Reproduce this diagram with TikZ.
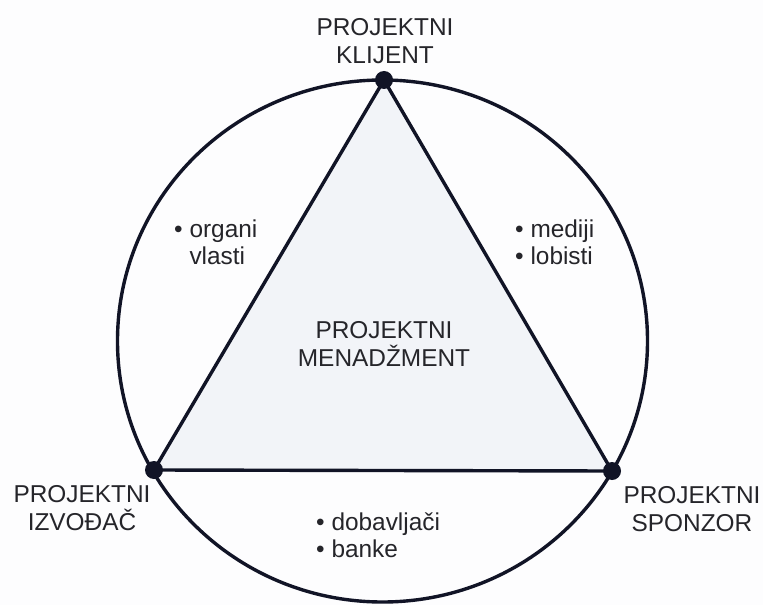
\documentclass[tikz,border=0pt]{standalone}
\usepackage{fontspec}
\setmainfont{Liberation Sans}
\definecolor{linecol}{HTML}{111426}
\definecolor{textcol}{HTML}{25252A}
\definecolor{trifill}{HTML}{F2F4F8}
\definecolor{bgcol}{HTML}{FDFDFE}
\begin{document}
\begin{tikzpicture}[x=1bp,y=-1bp,
  lbl/.style={text=textcol,font=\fontsize{24.5}{27.5}\selectfont,align=center,inner sep=0pt},
  blt/.style={text=textcol,font=\fontsize{24.5}{27.5}\selectfont,align=left,inner sep=0pt,anchor=west},
  edge/.style={draw=linecol,line width=3.4bp,line join=round},
  vdot/.style={circle,fill=linecol,minimum size=18bp,inner sep=0pt}]
\fill[bgcol] (0,0) rectangle (763,605);
\useasboundingbox (0,0) rectangle (763,605);
\coordinate (c) at (382.5,341);
\coordinate (k) at (384,80);
\coordinate (i) at (154,470);
\coordinate (s) at (612,471);
\fill[trifill] (k) -- (i) -- (s) -- cycle;
\draw[edge] (c) ellipse [x radius=265bp, y radius=261bp];
\draw[edge] (k) -- (i) -- (s) -- cycle;
\node[vdot] (kd) at (k) {};
\node[vdot] (id) at (i) {};
\node[vdot] (sd) at (s) {};
\node[lbl] (kl) at (385,41) {PROJEKTNI\\KLIJENT};
\node[lbl] (il) at (82,508) {PROJEKTNI\\IZVOĐAČ};
\node[lbl] (sl) at (692,509) {PROJEKTNI\\SPONZOR};
\node[lbl] (ml) at (384,344) {PROJEKTNI\\MENADŽMENT};
\node[blt] (ov) at (174,242) {• organi\\\phantom{• }vlasti};
\node[blt] (ml2) at (515,242) {• mediji\\• lobisti};
\node[blt] (db) at (316,535) {• dobavljači\\• banke};
\end{tikzpicture}
\end{document}
